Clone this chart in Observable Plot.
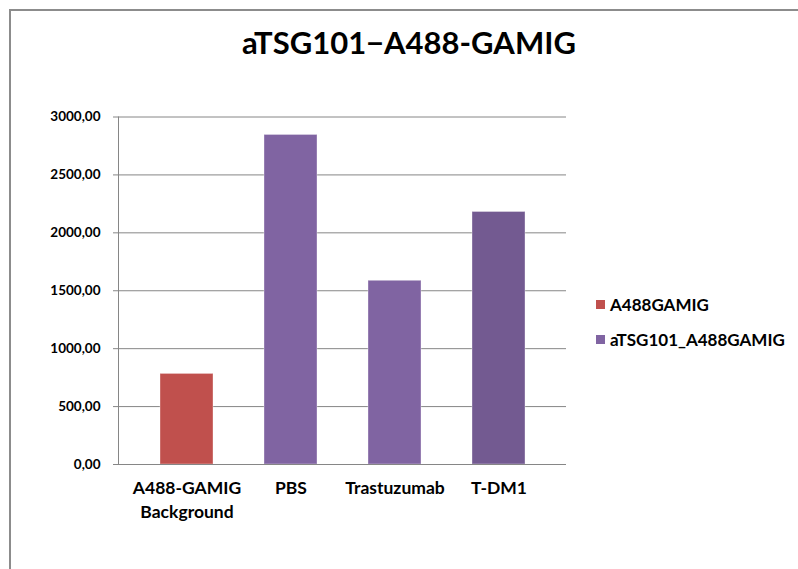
<!DOCTYPE html>
<html>
<head>
<meta charset="utf-8">
<script src="https://cdn.jsdelivr.net/npm/d3@7"></script>
<script src="https://cdn.jsdelivr.net/npm/@observablehq/plot@0.6"></script>
<style>
  html, body { margin: 0; padding: 0; background: #fff; }
  #chart { position: relative; width: 798px; height: 569px; overflow: hidden; background: #fff;
           font-family: Lato, "Open Sans", sans-serif; font-weight: bold; color: #000; }
  #chart svg { position: absolute; left: 0; top: 0; background: none; }
  #border { position: absolute; left: 9px; top: 9px; right: -4px; bottom: -4px;
            border-top: 2px solid #8c8c8c; border-left: 2px solid #8c8c8c; }
  #title { position: absolute; left: 0; width: 818px; top: 22px; text-align: center;
           font-size: 31px; line-height: 40px; }
  #legend { position: absolute; left: 596px; top: 287px; }
  .row { display: flex; align-items: center; height: 35px; font-size: 17px; }
  .sw { width: 9px; height: 9px; margin-right: 5px; }
</style>
</head>
<body>
<div id="chart"></div>
<script>
// Mean fluorescence per treatment
const categories = ["A488-GAMIG Background", "PBS", "Trastuzumab", "T-DM1"];
const values = [782, 2845, 1586, 2180];
const xTickLabels = ["A488-GAMIG\nBackground", "PBS", "Trastuzumab", "T-DM1"];
const yTicks = [0, 500, 1000, 1500, 2000, 2500, 3000];
const seriesNames = ["A488GAMIG", "aTSG101_A488GAMIG"];
const seriesColors = ["#C0504D", "#8064A2"];
const barColors = ["#C0504D", "#8064A2", "#8064A2", "#735A91"];

const rows = categories.map((c, i) => ({category: c, value: values[i]}));
const fmt = d => d.toFixed(2).replace(".", ",");
const grey = "#868686";

const chart = Plot.plot({
  width: 798,
  height: 569,
  marginLeft: 118,
  marginRight: 232,
  marginTop: 116.5,
  marginBottom: 105,
  style: {fontFamily: "Lato, 'Open Sans', sans-serif", fontWeight: "bold", color: "#000", background: "none"},
  x: {domain: categories, paddingInner: 0.494, paddingOuter: 0.385, align: 0.5, label: null},
  y: {domain: [0, 3000], label: null},
  color: {domain: categories, range: barColors},
  marks: [
    Plot.gridY(yTicks, {stroke: grey, strokeOpacity: 1, strokeWidth: 1}),
    Plot.barY(rows, {x: "category", y: "value", fill: "category", stroke: "#ffffff", strokeOpacity: 0.35, strokeWidth: 1}),
    Plot.ruleY([0], {stroke: grey, strokeWidth: 1}),
    Plot.frame({anchor: "left", stroke: grey, strokeWidth: 1}),
    Plot.axisY(yTicks, {tickSize: 5, tickPadding: 13, tickFormat: fmt, fontSize: 13.5, stroke: grey, label: null}),
    Plot.axisX({tickSize: 0, tickPadding: 12, fontSize: 17.5, lineHeight: 1.4,
                tickFormat: d => xTickLabels[categories.indexOf(d)], label: null})
  ]
});

const root = document.getElementById("chart");
root.appendChild(chart);

const title = document.createElement("div");
title.id = "title";
title.textContent = "aTSG101\u2212A488-GAMIG";
root.appendChild(title);

const legend = document.createElement("div");
legend.id = "legend";
seriesNames.forEach((name, i) => {
  const row = document.createElement("div");
  row.className = "row";
  const sw = document.createElement("div");
  sw.className = "sw";
  sw.style.background = seriesColors[i];
  const label = document.createElement("span");
  label.textContent = name;
  row.appendChild(sw);
  row.appendChild(label);
  legend.appendChild(row);
});
root.appendChild(legend);

const border = document.createElement("div");
border.id = "border";
root.appendChild(border);
</script>
</body>
</html>
